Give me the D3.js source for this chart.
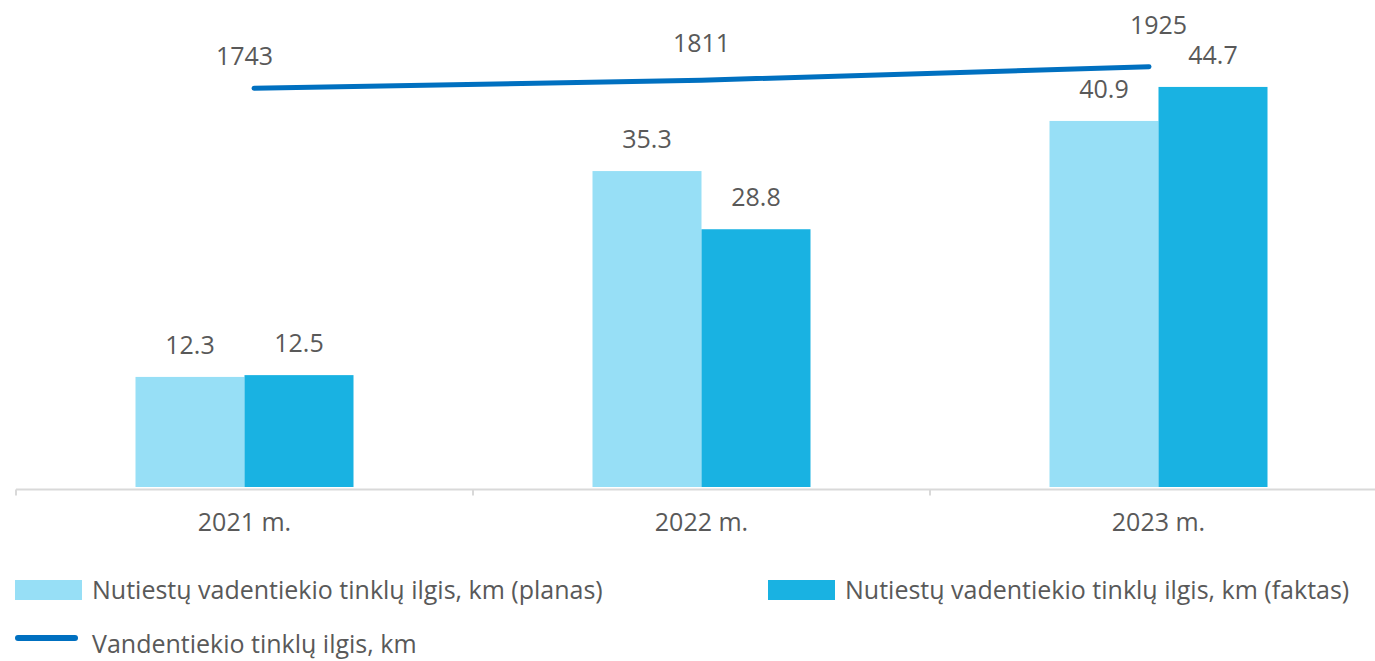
<!DOCTYPE html>
<html>
<head>
<meta charset="utf-8">
<script src="https://cdn.jsdelivr.net/npm/d3@7"></script>
<style>
  body { margin: 0; background: #fff; }
  svg text { font-family: "Open Sans", "Noto Sans", sans-serif; fill: #595959; }
</style>
</head>
<body>
<svg width="1375" height="661"></svg>
<script>
// Data
const years = ["2021 m.", "2022 m.", "2023 m."];
const series = ["planas", "faktas"];
const planValues = [12.3, 35.3, 40.9];
const factValues = [12.5, 28.8, 44.7];
const networkLength = [1743, 1811, 1925];
const legendLabels = [
    "Nutiestų vadentiekio tinklų ilgis, km (planas)",
    "Nutiestų vadentiekio tinklų ilgis, km (faktas)",
    "Vandentiekio tinklų ilgis, km"
];

const width = 1375, height = 661;
const svg = d3.select("svg");
const colors = { planas: "#97dff6", faktas: "#19b2e2", line: "#0070c0" };
const fontSize = 25;

const baseline = 487;
const bandW = 457;

// Scales
const x0 = d3.scaleBand().domain(years).range([16, 16 + bandW * years.length]);
const x1 = d3.scaleBand().domain(series).range([-109, 109]);
const y = d3.scaleLinear().domain([0, 50]).range([baseline, 39.5]);

// line sits on its own (secondary) axes
const xLine = d3.scalePoint().domain(years).range([254, 1149]);
const yLine = d3.scaleLinear().domain([1700, 2000]).range([93.4, 57.8]);

const rows = years.map((yr, i) => ({ year: yr, planas: planValues[i], faktas: factValues[i] }));

// Bars
const groups = svg.append("g").selectAll("g")
    .data(rows)
    .join("g")
    .attr("transform", d => `translate(${x0(d.year) + x0.bandwidth() / 2},0)`);

groups.selectAll("rect")
    .data(d => series.map(s => ({ key: s, value: d[s] })))
    .join("rect")
    .attr("x", d => x1(d.key))
    .attr("y", d => y(d.value))
    .attr("width", x1.bandwidth())
    .attr("height", d => baseline - y(d.value))
    .attr("fill", d => colors[d.key]);

groups.selectAll("text")
    .data(d => series.map(s => ({ key: s, value: d[s] })))
    .join("text")
    .attr("x", d => x1(d.key) + x1.bandwidth() / 2)
    .attr("y", d => y(d.value) - 32)
    .attr("dy", "0.35em")
    .attr("text-anchor", "middle")
    .style("font-size", fontSize + "px")
    .text(d => d.value.toFixed(1));

// X axis
const axis = svg.append("g").attr("transform", `translate(0,${baseline + 2.5})`);
axis.append("line")
    .attr("x1", 16).attr("x2", width)
    .attr("stroke", "#d9d9d9").attr("stroke-width", 2);
axis.selectAll(".tick")
    .data(years)
    .join("line")
    .attr("class", "tick")
    .attr("x1", d => x0(d)).attr("x2", d => x0(d))
    .attr("y1", 0).attr("y2", 6)
    .attr("stroke", "#d9d9d9").attr("stroke-width", 2);
axis.selectAll("text")
    .data(years)
    .join("text")
    .attr("x", d => x0(d) + x0.bandwidth() / 2)
    .attr("y", 33)
    .attr("dy", "0.35em")
    .attr("text-anchor", "middle")
    .style("font-size", fontSize + "px")
    .text(d => d);

// Line
const lineData = years.map((yr, i) => ({ year: yr, value: networkLength[i] }));
svg.append("path")
    .datum(lineData)
    .attr("fill", "none")
    .attr("stroke", colors.line)
    .attr("stroke-width", 5)
    .attr("stroke-linecap", "round")
    .attr("d", d3.line().x(d => xLine(d.year)).y(d => yLine(d.value)));

// line labels were hand-placed in the original, lifted a bit more each year
const labelLift = [32, 37, 41];
svg.append("g").selectAll("text")
    .data(lineData)
    .join("text")
    .attr("x", d => x0(d.year) + x0.bandwidth() / 2)
    .attr("y", (d, i) => yLine(d.value) - labelLift[i])
    .attr("dy", "0.35em")
    .attr("text-anchor", "middle")
    .style("font-size", fontSize + "px")
    .text(d => d.value);

// Legend
const legend = svg.append("g");
const legendItems = [
    { label: legendLabels[0], type: "rect", color: colors.planas, x: 15, y: 590 },
    { label: legendLabels[1], type: "rect", color: colors.faktas, x: 768, y: 590 },
    { label: legendLabels[2], type: "line", color: colors.line, x: 15, y: 644 }
];
legendItems.forEach(item => {
    const g = legend.append("g").attr("transform", `translate(${item.x},${item.y})`);
    if (item.type === "rect") {
        g.append("rect").attr("x", 0).attr("y", -10).attr("width", 67).attr("height", 20).attr("fill", item.color);
    } else {
        g.append("line").attr("x1", 3).attr("x2", 60).attr("y1", -6).attr("y2", -6)
            .attr("stroke", item.color).attr("stroke-width", 6).attr("stroke-linecap", "round");
    }
    g.append("text")
        .attr("x", 77)
        .attr("y", 0)
        .attr("dy", "0.35em")
        .style("font-size", fontSize + "px")
        .text(item.label);
});
</script>
</body>
</html>
